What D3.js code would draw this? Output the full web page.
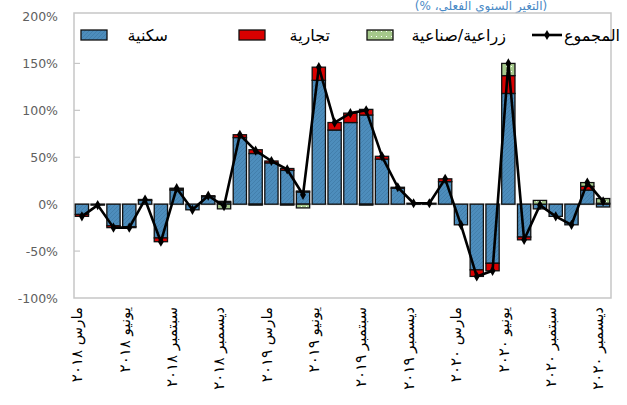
<!DOCTYPE html>
<html><head><meta charset="utf-8">
<script src="https://cdn.jsdelivr.net/npm/d3@7"></script>
<style>html,body{margin:0;padding:0;background:#fff;}svg{display:block;}</style>
</head><body>
<script>
const categories = ["مارس ٢٠١٨","أبريل ٢٠١٨","مايو ٢٠١٨","يونيو ٢٠١٨","يوليو ٢٠١٨","أغسطس ٢٠١٨","سبتمبر ٢٠١٨","أكتوبر ٢٠١٨","نوفمبر ٢٠١٨","ديسمبر ٢٠١٨",
"يناير ٢٠١٩","فبراير ٢٠١٩","مارس ٢٠١٩","أبريل ٢٠١٩","مايو ٢٠١٩","يونيو ٢٠١٩","يوليو ٢٠١٩","أغسطس ٢٠١٩","سبتمبر ٢٠١٩","أكتوبر ٢٠١٩","نوفمبر ٢٠١٩","ديسمبر ٢٠١٩",
"يناير ٢٠٢٠","فبراير ٢٠٢٠","مارس ٢٠٢٠","أبريل ٢٠٢٠","مايو ٢٠٢٠","يونيو ٢٠٢٠","يوليو ٢٠٢٠","أغسطس ٢٠٢٠","سبتمبر ٢٠٢٠","أكتوبر ٢٠٢٠","نوفمبر ٢٠٢٠","ديسمبر ٢٠٢٠"];
const residential = [-11,-1,-23,-24,4,-36,15,-6,8,2,71,54,44,36,13,132,79,87,95,48,17,1,1,24,-22,-70,-63,118,-35,-5,-13,-22,15,-3];
const commercial  = [-2,0,-2,-1,1,-4,1,0,1,1,3,4,2,2,1,14,8,10,6,3,1,0,0,3,0,-7,-8,19,-3,0,0,0,4,1];
const agriIndustrial = [0,0,0,0,0,0,1,0,0,-5,0,-1,0,-1,-4,0,0,0,-1,0,0,0,0,0,0,0,0,13,0,4,0,0,4,5];
const total = [-13,-1,-25,-25,5,-40,17,-6,9,-2,74,57,46,37,10,146,87,97,100,51,18,1,1,27,-22,-77,-71,150,-38,-1,-13,-22,23,3];
const tickLabels = ["مارس ٢٠١٨","يونيو ٢٠١٨","سبتمبر ٢٠١٨","ديسمبر ٢٠١٨","مارس ٢٠١٩","يونيو ٢٠١٩","سبتمبر ٢٠١٩","ديسمبر ٢٠١٩","مارس ٢٠٢٠","يونيو ٢٠٢٠","سبتمبر ٢٠٢٠","ديسمبر ٢٠٢٠"];
const yTicks = [-100,-50,0,50,100,150,200];
const seriesNames = ["سكنية","تجارية","زراعية/صناعية","المجموع"];
const titleText = "(التغير السنوي الفعلي، %)";

(function(){
const W = 627, H = 405;
const svg = d3.select("body").append("svg").attr("width", W).attr("height", H);
const defs = svg.append("defs");
const pb = defs.append("pattern").attr("id","blueHatch").attr("patternUnits","userSpaceOnUse").attr("width",4).attr("height",4);
pb.append("rect").attr("width",4).attr("height",4).attr("fill","#4d8dbc");
pb.append("path").attr("d","M-1,1 l2,-2 M0,4 l4,-4 M3,5 l2,-2").attr("stroke","#437fac").attr("stroke-width",1);
const pg = defs.append("pattern").attr("id","greenDots").attr("patternUnits","userSpaceOnUse").attr("width",5).attr("height",5);
pg.append("rect").attr("width",5).attr("height",5).attr("fill","#a5c98b");
pg.append("rect").attr("x",1).attr("y",1).attr("width",1).attr("height",1).attr("fill","#ffffff");

const pLeft = 74, pRight = 611, pTop = 13, pBottom = 298;
const x = d3.scaleBand().domain(d3.range(categories.length)).range([pLeft, pRight]).paddingInner(0.16).paddingOuter(0.08);
const y = d3.scaleLinear().domain([-100, 200]).range([pBottom, 16.5]);

svg.append("text").attr("x", 481).attr("y", 10).attr("text-anchor","middle")
  .attr("font-family","DejaVu Sans").attr("font-size",12).attr("fill","#4a8ac6").text("\u202B" + titleText + "\u202C");

svg.append("rect").attr("x",pLeft).attr("y",pTop).attr("width",pRight-pLeft).attr("height",pBottom-pTop)
  .attr("fill","none").attr("stroke","#c6c6c6").attr("stroke-width",1.5);

const yg = svg.append("g");
yg.selectAll("line").data(yTicks.filter(d=>d!==0 && d!==200 && d!==-100)).join("line")
  .attr("x1",pLeft).attr("x2",pLeft+6).attr("y1",d=>y(d)).attr("y2",d=>y(d)).attr("stroke","#c6c6c6").attr("stroke-width",1.2);
yg.selectAll("text").data(yTicks).join("text")
  .attr("x",58).attr("y",d=>y(d)).attr("dy","0.36em").attr("text-anchor","end")
  .attr("font-family","DejaVu Sans").attr("font-size",12.5).attr("fill","#606060")
  .text(d=>d+"%");

svg.append("line").attr("x1",pLeft).attr("x2",pRight).attr("y1",y(0)).attr("y2",y(0)).attr("stroke","#c6c6c6").attr("stroke-width",2);

const series = [
  {vals: residential, fill: "url(#blueHatch)"},
  {vals: commercial, fill: "#d90000"},
  {vals: agriIndustrial, fill: "url(#greenDots)"}
];
const segs = [];
categories.forEach((c,i)=>{
  let pos = 0, neg = 0;
  series.forEach(s=>{
    const v = s.vals[i];
    if (v === 0) return;
    let y0, y1;
    if (v > 0) { y0 = pos; y1 = pos + v; pos = y1; } else { y0 = neg; y1 = neg + v; neg = y1; }
    segs.push({i, y0, y1, fill: s.fill});
  });
});
svg.append("g").selectAll("rect").data(segs).join("rect")
  .attr("x", d=>x(d.i)).attr("width", x.bandwidth())
  .attr("y", d=>Math.min(y(d.y0), y(d.y1))).attr("height", d=>Math.abs(y(d.y0)-y(d.y1)))
  .attr("fill", d=>d.fill).attr("stroke","#111").attr("stroke-width",1.3);

const cx = i => x(i) + x.bandwidth()/2;
svg.append("path").datum(total)
  .attr("d", d3.line().x((d,i)=>cx(i)).y(d=>y(d)))
  .attr("fill","none").attr("stroke","#000").attr("stroke-width",2.6).attr("stroke-linejoin","round");
svg.append("g").selectAll("path").data(total).join("path")
  .attr("transform",(d,i)=>`translate(${cx(i)},${y(d)})`)
  .attr("d", d3.symbol(d3.symbolDiamond, 30)).attr("fill","#000");

svg.append("g").selectAll("text").data(tickLabels).join("text")
  .attr("transform",(d,k)=>`translate(${cx(k*3)-5},307) rotate(-90)`)
  .attr("text-anchor","end").attr("dy","0.35em")
  .attr("font-family","DejaVu Sans").attr("font-size",15).attr("fill","#000")
  .text(d=>d);

const lg = svg.append("g").attr("font-family","DejaVu Sans").attr("font-size",16).attr("fill","#000");
const legendItems = [
  {name: seriesNames[0], fill:"url(#blueHatch)", sx:81, tx:168},
  {name: seriesNames[1], fill:"#d90000", sx:239, tx:330},
  {name: seriesNames[2], fill:"url(#greenDots)", sx:367, tx:506}
];
legendItems.forEach(it=>{
  lg.append("rect").attr("x",it.sx).attr("y",30).attr("width",26).attr("height",10).attr("fill",it.fill).attr("stroke","#111").attr("stroke-width",1.3);
  lg.append("text").attr("x",it.tx).attr("y",35).attr("dy","0.35em").attr("text-anchor","end").text(it.name);
});
lg.append("line").attr("x1",532).attr("x2",562).attr("y1",35).attr("y2",35).attr("stroke","#000").attr("stroke-width",2.6);
lg.append("path").attr("transform","translate(547,35)").attr("d", d3.symbol(d3.symbolDiamond, 30)).attr("fill","#000");
lg.append("text").attr("x",564).attr("y",35).attr("dy","0.35em").attr("text-anchor","start").text(seriesNames[3]);
})();
</script>
</body></html>
